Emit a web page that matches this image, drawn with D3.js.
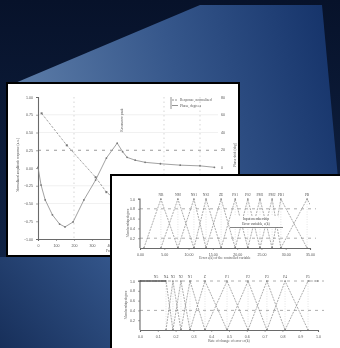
<!DOCTYPE html>
<html><head><meta charset="utf-8">
<script src="https://cdn.jsdelivr.net/npm/d3@7"></script>
<style>html,body{margin:0;padding:0;background:#0b1830;}svg{display:block}</style>
</head><body><svg id="c" width="340" height="348"></svg>
<script>
// ---------- DATA ----------
// Panel 1 (two response curves, dual y axis)
const p1XTicks = [0,1,2,3,4,5,6,7,8,9,10];
const p1YTicks = [-1.00,-0.75,-0.50,-0.25,0,0.25,0.50,0.75,1.00];
const p1RightTicks = [-20,0,20,40,60,80];
const p1GridX = [2,7,9];
const curveAx = [0.2,1.6,3.2,3.8,4.6,5.5,6.5,7.5,8.5,9.5];
const curveAy = [0.77,0.32,-0.13,-0.34,-0.50,-0.60,-0.66,-0.70,-0.72,-0.73];
const curveBx = [0,0.17,0.4,0.8,1.2,1.5,1.95,2.55,3.2,3.8,4.4,4.7,4.95,5.4,5.95,6.8,7.9,9,9.8];
const curveBy = [0.01,-0.24,-0.45,-0.66,-0.79,-0.83,-0.76,-0.45,-0.17,0.14,0.35,0.23,0.15,0.11,0.08,0.06,0.04,0.03,0.01];
const p1Legend = ["Response, normalized", "Phase, degrees"];

// Panel 2, upper chart (triangular membership functions)
const topXTicks = [0,5,10,15,20,25,30,35];
const topYTicks = [0.2,0.4,0.6,0.8,1.0];
const topCenters = [4.3,7.8,11.1,13.6,16.7,19.6,22.2,24.7,27.2,29.0,34.4];
const topNames = ["NB","NM","NS1","NS2","ZE","PS1","PS2","PM1","PM2","PB1","PB"];
const topLegend = ["Input membership", "Error variable, e(k)"];

// Panel 2, lower chart
const botXTicks = [0,0.1,0.2,0.3,0.4,0.5,0.6,0.7,0.8,0.9,1.0];
const botYTicks = [0.2,0.4,0.6,0.8,1.0];
const botCenters = [0.146,0.185,0.230,0.281,0.365,0.489,0.607,0.713,0.815,0.944];
const botNames = ["N5","N4","N3","N2","N1","Z","P1","P2","P3","P4","P5"];

// ---------- DRAW ----------
const svg = d3.select('#c');
const defs = svg.append('defs');
const g1 = defs.append('linearGradient').attr('id','poly').attr('gradientUnits','userSpaceOnUse')
  .attr('x1',10).attr('y1',95).attr('x2',330).attr('y2',10);
g1.append('stop').attr('offset',0).attr('stop-color','#5e7ea9');
g1.append('stop').attr('offset',0.5).attr('stop-color','#36578b');
g1.append('stop').attr('offset',1).attr('stop-color','#15336a');
const g2 = defs.append('linearGradient').attr('id','bg').attr('x1',0).attr('y1',0).attr('x2',0).attr('y2',1);
g2.append('stop').attr('offset',0).attr('stop-color','#07122a');
g2.append('stop').attr('offset',1).attr('stop-color','#13294f');
const g3 = defs.append('linearGradient').attr('id','low').attr('gradientUnits','userSpaceOnUse')
  .attr('x1',110).attr('y1',258).attr('x2',0).attr('y2',348);
g3.append('stop').attr('offset',0).attr('stop-color','#33558a');
g3.append('stop').attr('offset',1).attr('stop-color','#172f5a');
defs.append('filter').attr('id','blur').attr('x',-0.1).attr('y',-0.1).attr('width',1.2).attr('height',1.2)
  .append('feGaussianBlur').attr('stdDeviation',0.55);
defs.append('clipPath').attr('id','clipTop').append('rect').attr('x',136).attr('y',190).attr('width',174).attr('height',62);

svg.append('rect').attr('width',340).attr('height',348).attr('fill','url(#bg)');
svg.append('polygon').attr('points','8,86 200,5 322,5 340,200 340,348 8,348').attr('fill','url(#poly)');
svg.append('rect').attr('x',0).attr('y',257).attr('width',112).attr('height',91).attr('fill','url(#low)');

const txtCol = '#555', lineCol = '#8a8a8a', axCol = '#6a6a6a', fs = 3.6;

function styleAxis(sel){
  sel.selectAll('path').attr('stroke',axCol).attr('stroke-width',1.1);
  sel.selectAll('line').attr('stroke',axCol).attr('stroke-width',0.6);
  sel.selectAll('text').attr('fill',txtCol).attr('font-size',fs).attr('font-family','Liberation Sans, Arial, sans-serif');
}

// ===== Panel 1 =====
svg.append('rect').attr('x',7).attr('y',83).attr('width',232).attr('height',173)
  .attr('fill','#fff').attr('stroke','#000').attr('stroke-width',2);
const c1 = svg.append('g').attr('filter','url(#blur)');
const x1 = d3.scaleLinear().domain([0,10]).range([38,218]);
const y1 = d3.scaleLinear().domain([-1,1]).range([239,97]);
const yR = d3.scaleLinear().domain([-20,80]).range([185,97]);
// grid
c1.selectAll('.gx').data(p1GridX).join('line')
  .attr('x1',d=>x1(d)).attr('x2',d=>x1(d)).attr('y1',97).attr('y2',239)
  .attr('stroke','#bbb').attr('stroke-width',0.6).attr('stroke-dasharray','1.5,3');
c1.selectAll('.gy').data([0.75,0.5,-0.25,-0.5]).join('line')
  .attr('x1',38).attr('x2',218).attr('y1',d=>y1(d)).attr('y2',d=>y1(d))
  .attr('stroke','#e2e2e2').attr('stroke-width',0.5);
c1.append('line').attr('x1',38).attr('x2',218).attr('y1',y1(0.25)).attr('y2',y1(0.25))
  .attr('stroke','#999').attr('stroke-width',1).attr('stroke-dasharray','3,5');
// axes
c1.append('g').attr('transform','translate(38,0)')
  .call(d3.axisLeft(y1).tickValues(p1YTicks).tickSize(2).tickFormat(d3.format('.2f'))).call(styleAxis);
c1.append('g').attr('transform','translate(0,239)')
  .call(d3.axisBottom(x1).tickValues(p1XTicks).tickSize(2).tickFormat(d=>d*100)).call(styleAxis);
c1.append('g').attr('transform','translate(218,0)')
  .call(d3.axisRight(yR).tickValues(p1RightTicks).tickSize(0)).call(styleAxis)
  .call(s=>s.select('path').remove());
c1.append('text').attr('transform','translate(19,165) rotate(-90)').attr('text-anchor','middle')
  .attr('font-size',fs).attr('fill',txtCol).text('Normalized amplitude response (a.u.)');
c1.append('text').attr('transform','translate(236,155) rotate(-90)').attr('text-anchor','middle')
  .attr('font-size',fs).attr('fill',txtCol).text('Phase shift (deg)');
c1.append('text').attr('transform','translate(123,120) rotate(-90)').attr('text-anchor','middle')
  .attr('font-size',fs).attr('fill',txtCol).text('Resonance peak');
c1.append('text').attr('x',106).attr('y',252).attr('text-anchor','start')
  .attr('font-size',fs).attr('fill',txtCol).text('Frequency (Hz)');
// curves
const lineA = d3.line().x((d,i)=>x1(curveAx[i])).y((d,i)=>y1(curveAy[i]));
const lineB = d3.line().x((d,i)=>x1(curveBx[i])).y((d,i)=>y1(curveBy[i]));
c1.append('path').attr('d',lineA(curveAx)).attr('fill','none').attr('stroke',lineCol).attr('stroke-width',0.8).attr('stroke-dasharray','2.5,1.5');
c1.append('path').attr('d',lineB(curveBx)).attr('fill','none').attr('stroke',lineCol).attr('stroke-width',0.8);
c1.selectAll('.ma').data(curveAx).join('rect').attr('x',(d,i)=>x1(d)-1).attr('y',(d,i)=>y1(curveAy[i])-1)
  .attr('width',2).attr('height',2).attr('fill','#777');
c1.selectAll('.mb').data(curveBx).join('circle').attr('cx',d=>x1(d)).attr('cy',(d,i)=>y1(curveBy[i]))
  .attr('r',0.9).attr('fill','#777');
// legend
const lg = c1.append('g');
lg.append('line').attr('x1',171).attr('x2',171).attr('y1',97).attr('y2',109).attr('stroke','#777').attr('stroke-width',0.8);
p1Legend.forEach((t,i)=>{
  lg.append('line').attr('x1',172).attr('x2',178).attr('y1',100+i*5.5).attr('y2',100+i*5.5)
    .attr('stroke','#777').attr('stroke-width',0.8).attr('stroke-dasharray',i?'':'2,1');
  lg.append('text').attr('x',180).attr('y',101.3+i*5.5).attr('font-size',fs).attr('fill',txtCol).text(t);
});

// ===== Panel 2 =====
svg.append('rect').attr('x',111).attr('y',175).attr('width',240).attr('height',180)
  .attr('fill','#fff').attr('stroke','#000').attr('stroke-width',2);
const c2 = svg.append('g').attr('filter','url(#blur)');

function mfChart(g, xs, ys, centers, names, xTicks, yTicks, dashY, shoulders, xFmt, clip){
  g.selectAll(null).data(dashY).join('line')
    .attr('x1',xs.range()[0]).attr('x2',xs.range()[1]+6).attr('y1',d=>ys(d)).attr('y2',d=>ys(d))
    .attr('stroke','#999').attr('stroke-width',0.8).attr('stroke-dasharray','3,4');
  const gm = g.append('g');
  if(clip) gm.attr('clip-path',`url(#${clip})`);
  gm.selectAll(null).data(centers).join('line')
    .attr('x1',d=>xs(d)).attr('x2',d=>xs(d)).attr('y1',ys(1)).attr('y2',ys(0))
    .attr('stroke','#c8c8c8').attr('stroke-width',0.5).attr('stroke-dasharray','1,1.5');
  const ln = d3.line().x(d=>xs(d[0])).y(d=>ys(d[1]));
  centers.forEach((c,i)=>{
    const l = i>0 ? centers[i-1] : c-(centers[1]-c);
    const r = i<centers.length-1 ? centers[i+1] : c+(c-centers[i-1]);
    let pts = [[l,0],[c,1],[r,0]];
    if(shoulders && i===0) pts = [[xs.domain()[0],1],[c,1],[r,0]];
    if(shoulders && i===centers.length-1) pts = [[l,0],[c,1],[xs.domain()[1],1]];
    gm.append('path').attr('d',ln(pts)).attr('fill','none').attr('stroke','#888')
      .attr('stroke-width',0.7).attr('stroke-dasharray','2,1');
    gm.selectAll(null).data(pts).join('circle').attr('cx',d=>xs(d[0])).attr('cy',d=>ys(d[1]))
      .attr('r',0.8).attr('fill','#777');
  });
  g.selectAll(null).data(names).join('text')
    .attr('x',(d,i)=> i<centers.length ? xs(centers[i]) : xs(centers[centers.length-1]))
    .attr('y',ys(1)-3).attr('text-anchor','middle').attr('font-size',fs).attr('fill',txtCol).text(d=>d);
  g.append('g').attr('transform',`translate(${xs.range()[0]},0)`)
    .call(d3.axisLeft(ys).tickValues(yTicks).tickSize(2).tickFormat(d3.format('.1f'))).call(styleAxis)
    .call(s=>s.select('path').attr('d',`M-2,${ys(1)}H0V${ys(0)}`));
  g.append('g').attr('transform',`translate(0,${ys(0)})`)
    .call(d3.axisBottom(xs).tickValues(xTicks).tickSize(2).tickFormat(xFmt)).call(styleAxis);
}

// upper
const xT = d3.scaleLinear().domain([0,35]).range([140,310]);
const yT = d3.scaleLinear().domain([0,1]).range([248,199]);
const gT = c2.append('g');
mfChart(gT, xT, yT, topCenters, topNames, topXTicks, topYTicks, [0.2,0.8], false, d3.format('.2f'), 'clipTop');
gT.append('text').attr('transform','translate(129,223) rotate(-90)').attr('text-anchor','middle')
  .attr('font-size',fs).attr('fill',txtCol).text('Membership degree');
gT.append('text').attr('x',225).attr('y',258.5).attr('text-anchor','middle')
  .attr('font-size',fs).attr('fill',txtCol).text('Error e(k) of the controlled variable');
const lgT = gT.append('g');
lgT.append('rect').attr('x',234).attr('y',216).attr('width',44).attr('height',11).attr('fill','#fff');
topLegend.forEach((t,i)=>{
  lgT.append('text').attr('x',256).attr('y',220+i*4.8).attr('text-anchor','middle')
    .attr('font-size',fs).attr('fill','#444').text(t);
});
lgT.append('line').attr('x1',230).attr('x2',283).attr('y1',227.5).attr('y2',227.5).attr('stroke','#666').attr('stroke-width',0.8);

// lower
const xB = d3.scaleLinear().domain([0,1]).range([140,318]);
const yB = d3.scaleLinear().domain([0,1]).range([330,281]);
const gB = c2.append('g');
mfChart(gB, xB, yB, botCenters, botNames.slice(1), botXTicks, botYTicks, [0.4,1], true, d3.format('.1f'), null);
gB.append('line').attr('x1',xB(0)).attr('x2',xB(botCenters[0])).attr('y1',yB(1)).attr('y2',yB(1))
  .attr('stroke','#555').attr('stroke-width',1.4);
gB.append('text').attr('x',xB(0.09)).attr('y',yB(1)-3).attr('text-anchor','middle')
  .attr('font-size',fs).attr('fill',txtCol).text(botNames[0]);
gB.append('text').attr('transform','translate(127,305) rotate(-90)').attr('text-anchor','middle')
  .attr('font-size',fs).attr('fill',txtCol).text('Membership degree');
gB.append('text').attr('x',229).attr('y',341.5).attr('text-anchor','middle')
  .attr('font-size',fs).attr('fill',txtCol).text('Rate of change of error ec(k)');
</script></body></html>
